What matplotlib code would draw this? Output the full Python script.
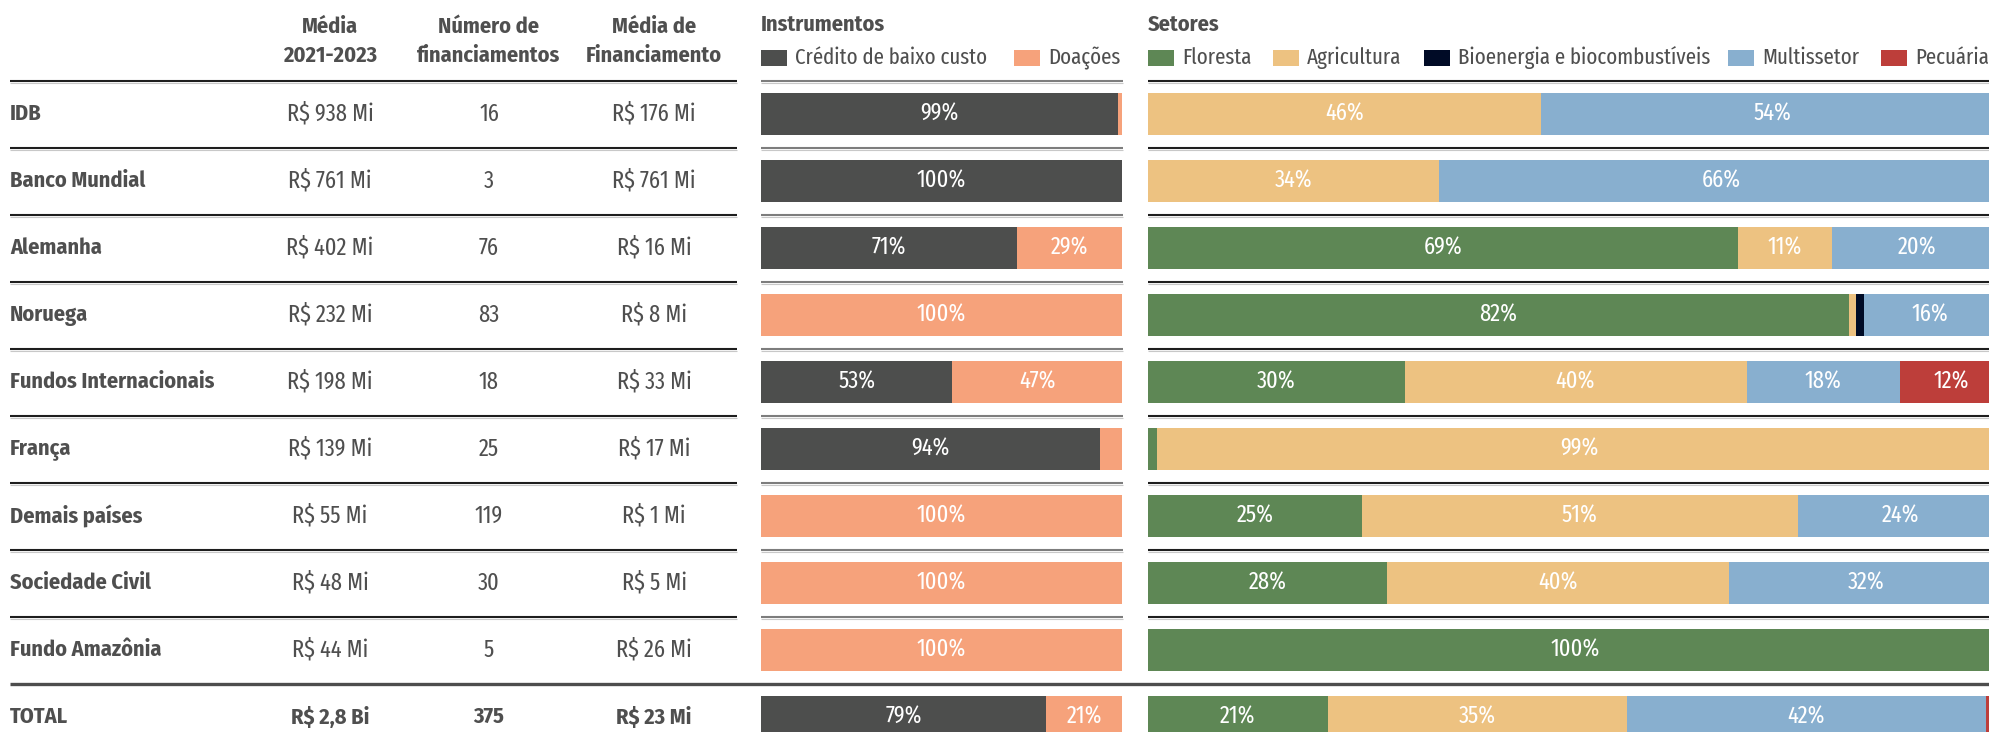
import matplotlib
matplotlib.use("Agg")
import matplotlib.pyplot as plt
from matplotlib import font_manager as fm
from matplotlib.patches import Rectangle

# pick condensed families if installed
installed = {f.name for f in fm.fontManager.ttflist}


def pick(options):
    for fam in options:
        if fam in installed:
            return fam
    return "DejaVu Sans"


FONT_B = pick(["Fira Sans Condensed", "Roboto Condensed", "Barlow Condensed", "Archivo Narrow", "Liberation Sans Narrow"])
FONT_R = pick(["Fira Sans Extra Condensed", "Fira Sans Condensed", "Roboto Condensed", "Barlow Condensed",
               "Archivo Narrow", "Liberation Sans Narrow"])
plt.rcParams['font.family'] = [FONT_R, 'DejaVu Sans']

# data
origens = ["IDB", "Banco Mundial", "Alemanha", "Noruega", "Fundos Internacionais", "França",
           "Demais países", "Sociedade Civil", "Fundo Amazônia", "TOTAL"]
media_2021_2023 = ["R$ 938 Mi", "R$ 761 Mi", "R$ 402 Mi", "R$ 232 Mi", "R$ 198 Mi", "R$ 139 Mi",
                   "R$ 55 Mi", "R$ 48 Mi", "R$ 44 Mi", "R$ 2,8 Bi"]
num_financiamentos = ["16", "3", "76", "83", "18", "25", "119", "30", "5", "375"]
media_financiamento = ["R$ 176 Mi", "R$ 761 Mi", "R$ 16 Mi", "R$ 8 Mi", "R$ 33 Mi", "R$ 17 Mi",
                       "R$ 1 Mi", "R$ 5 Mi", "R$ 26 Mi", "R$ 23 Mi"]

instrumentos = ["Crédito de baixo custo", "Doações"]
credito = [99, 100, 71, 0, 53, 94, 0, 0, 0, 79]
doacoes = [1, 0, 29, 100, 47, 6, 100, 100, 100, 21]

setores = ["Floresta", "Agricultura", "Bioenergia e biocombustíveis", "Multissetor", "Pecuária"]
floresta = [0, 0, 69, 82, 30, 1, 25, 28, 100, 21]
agricultura = [46, 34, 11, 0.8, 40, 99, 51, 40, 0, 35]
bioenergia = [0, 0, 0, 0.9, 0, 0, 0, 0, 0, 0]
multissetor = [54, 66, 20, 15.6, 18, 0, 24, 32, 0, 42]
pecuaria = [0, 0, 0, 0.7, 12, 0, 0, 0, 0, 2]

cores_instr = ["#4d4e4d", "#f6a27b"]
cores_set = ["#5e8755", "#edc281", "#000b26", "#88afcf", "#bd3e3a"]

TXT = "#4f4f4f"
W, H = 1990, 732
ROW0, PITCH = 114, 67          # row centre and row pitch in pixels
n = len(origens)
ylim = ((H - ROW0) / PITCH, -ROW0 / PITCH)
FS_B = 16
FS_R = 17.5
FS_LEG = 16.4

fig = plt.figure(figsize=(W / 100, H / 100), dpi=100)

# table axes in pixel units horizontally, row units vertically
tab = fig.add_axes([0, 0, 1, 1])
tab.set_xlim(0, W)
tab.set_ylim(*ylim)
tab.axis('off')

col_x = [330, 489, 654]
headers = ["Média\n2021-2023", "Número de\nfinanciamentos", "Média de\nFinanciamento"]
for x, h in zip(col_x, headers):
    tab.text(x, -1.09, h, ha='center', va='center', fontsize=FS_B, fontweight='bold', color=TXT,
             linespacing=1.45, family=FONT_B)

for i, nome in enumerate(origens):
    tab.text(10, i, nome, ha='left', va='center', fontsize=FS_B, fontweight='bold', color=TXT, family=FONT_B)
    for x, col in zip(col_x, [media_2021_2023, num_financiamentos, media_financiamento]):
        if nome == "TOTAL":
            tab.text(x, i, col[i], ha='center', va='center', fontsize=FS_B, fontweight='bold', color=TXT, family=FONT_B)
        else:
            tab.text(x, i, col[i], ha='center', va='center', fontsize=FS_R, color=TXT)

# separators (dark rule with a faint grey line under it)
for k in range(-1, n - 2):
    y = k + 0.5
    y2 = y + 2.2 / PITCH
    for x0, x1, c in [(10, 737, "#1e1e1e"), (761, 1123, "#7d7d7d"), (1148, W, "#1e1e1e")]:
        tab.plot([x0, x1], [y2, y2], color="#c8c8c8", lw=0.8, solid_capstyle='butt')
        tab.plot([x0, x1], [y, y], color=c, lw=1.5, solid_capstyle='butt')
tab.plot([10, W], [n - 1.5, n - 1.5], color="#4d4d4d", lw=2.4, solid_capstyle='butt')


def barras(left_px, width_px, series, cores):
    ax = fig.add_axes([left_px / W, 0, width_px / W, 1])
    ax.set_facecolor('none')
    ax.set_xlim(0, 100)
    ax.set_ylim(*ylim)
    ax.axis('off')
    base = [0] * n
    for vals, c in zip(series, cores):
        ax.barh(range(n), vals, left=base, height=42 / PITCH, color=c, linewidth=0)
        for i, v in enumerate(vals):
            if v >= 10:
                ax.text(base[i] + v / 2, i, f"{round(v)}%", ha='center', va='center',
                        fontsize=FS_R, color='white')
        base = [b + v for b, v in zip(base, vals)]
    return ax


barras(761, 361, [credito, doacoes], cores_instr)
barras(1148, 855, [floresta, agricultura, bioenergia, multissetor, pecuaria], cores_set)


# titles and legends (swatch left edges in pixels)
def legenda(x0, titulo, nomes, cores, xs):
    tab.text(x0, -1.33, titulo, ha='left', va='center', fontsize=FS_B, fontweight='bold', color=TXT, family=FONT_B)
    for x, nome, c in zip(xs, nomes, cores):
        tab.add_patch(Rectangle((x, -0.836 - 0.12), 26, 0.24, color=c, lw=0))
        tab.text(x + 34, -0.836, nome, ha='left', va='center', fontsize=FS_LEG, color=TXT)


legenda(761, "Instrumentos", instrumentos, cores_instr, [761, 1014])
legenda(1148, "Setores", setores, cores_set, [1148, 1273, 1424, 1728, 1881])

fig.savefig("out.png", dpi=100)
